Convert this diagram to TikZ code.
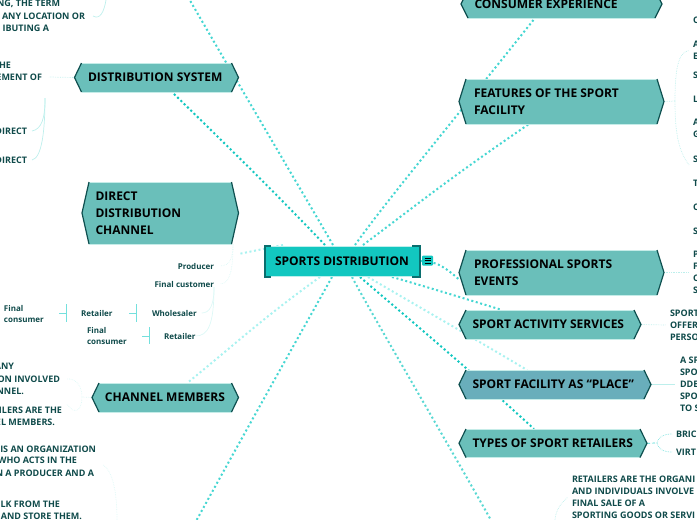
\documentclass[tikz,border=0pt]{standalone}
\usepackage{fontspec}
\setmainfont{Open Sans}
\pgfdeclarelayer{conn}
\pgfdeclarelayer{fills}
\pgfsetlayers{conn,fills,main}
\definecolor{hexfill}{HTML}{6ABFBA}
\definecolor{hexblue}{HTML}{69AEBB}
\definecolor{hexedge}{HTML}{0E4F4F}
\definecolor{rim}{HTML}{C5ECE8}
\definecolor{rootfill}{HTML}{12C7C0}
\definecolor{rootedge}{HTML}{0A6E6E}
\definecolor{txt}{HTML}{0F4A4A}
\definecolor{linkA}{HTML}{12C7C0}
\definecolor{linkB}{HTML}{45D6D2}
\definecolor{linkC}{HTML}{A8F2F0}
\definecolor{thinA}{HTML}{BDEFEC}
\definecolor{thinB}{HTML}{DDF8F6}
\tikzset{
  hexlabel/.style={font=\bfseries\fontsize{12}{17}\selectfont, text=black, inner ysep=0pt, inner xsep=0pt, outer sep=0pt},
  lbl/.style={font=\bfseries\fontsize{9}{12}\selectfont, text=txt, inner sep=0pt, outer sep=0pt},
  lblL/.style={lbl, align=left, anchor=west},
  lblR/.style={lbl, anchor=east},
  small/.style={font=\bfseries\fontsize{8}{11}\selectfont, text=txt, inner sep=0pt, outer sep=0pt, align=left},
  bigdots/.style={line width=2pt, dash pattern=on 2pt off 2.6pt},
  thin link/.style={line width=0.7pt, thinA},
  faint link/.style={line width=0.7pt, thinB},
  tick/.style={line width=1pt, color=linkB!75}
}
% name, x1, y1, x2, y2, left pad, fill, text
\newcommand{\hexbox}[8]{%
  \pgfmathsetmacro{\hw}{#4-#2}%
  \pgfmathsetmacro{\hh}{#5-#3}%
  \pgfmathsetmacro{\hcx}{(#2+#4)/2}%
  \pgfmathsetmacro{\hcy}{(#3+#5)/2}%
  \pgfmathsetmacro{\ptw}{\hw-#6-1}%
  \node[hexlabel, minimum height=\hh pt] (#1) at (\hcx,\hcy) {\hspace*{#6pt}\parbox{\ptw pt}{\raggedright #8}\hspace*{1pt}};
  \begin{pgfonlayer}{fills}
    \fill[#7] (#2+7,#3) -- (#4-7,#3) -- (#4,\hcy) -- (#4-7,#5) -- (#2+7,#5) -- (#2,\hcy) -- cycle;
    \draw[rim, line width=0.8pt] (#2+7,#3) -- (#4-7,#3) (#2+7,#5) -- (#4-7,#5);
    \draw[hexedge, line width=1.2pt] (#2+7,#3) -- (#2,\hcy) -- (#2+7,#5) (#4-7,#3) -- (#4,\hcy) -- (#4-7,#5);
  \end{pgfonlayer}
}
\begin{document}
\begin{tikzpicture}[x=1pt,y=-1pt]
\useasboundingbox (0,0) rectangle (697,520);
% root
\node[font=\bfseries\fontsize{12}{14}\selectfont, text=black, minimum width=156pt, minimum height=32pt, inner sep=0pt, outer sep=0pt] (root) at (342,261) {SPORTS DISTRIBUTION};
\begin{pgfonlayer}{fills}
  \fill[rootfill] (265,246) rectangle (419,276);
  \draw[thinA, line width=0.8pt] (265,246) rectangle (419,276);
  \draw[rootedge, line width=2pt] (271,245.5) -- (264.5,245.5) -- (264.5,276.5) -- (271,276.5);
  \draw[rootedge, line width=2pt] (412,245.5) -- (419.5,245.5) -- (419.5,276.5) -- (412,276.5);
\end{pgfonlayer}
\node[fill=rootfill, rounded corners=1pt, minimum width=11pt, minimum height=10pt, inner sep=0pt] (menu) at (427.5,260.5) {};
\draw[black, line width=0.6pt] (424.5,258) -- (430.5,258) (424.5,260.5) -- (430.5,260.5) (424.5,263) -- (430.5,263);
% main topics
\hexbox{dist}{74.5}{63}{238.5}{92}{13.5}{hexfill}{DISTRIBUTION SYSTEM}
\hexbox{direct}{82}{182}{238.5}{244}{13.5}{hexfill}{DIRECT\\DISTRIBUTION\\CHANNEL}
\hexbox{members}{92}{383}{238.5}{412}{13}{hexfill}{CHANNEL MEMBERS}
\hexbox{consumer}{461}{-10}{662}{18}{13.5}{hexfill}{CONSUMER EXPERIENCE}
\hexbox{features}{459}{79}{664}{124}{15}{hexfill}{FEATURES OF THE SPORT\\FACILITY}
\hexbox{events}{459}{250}{664}{295}{15}{hexfill}{PROFESSIONAL SPORTS\\EVENTS}
\hexbox{activity}{459}{310}{641}{339}{13.5}{hexfill}{SPORT ACTIVITY SERVICES}
\hexbox{place}{459}{370}{651}{399}{13.5}{hexblue}{SPORT FACILITY AS “PLACE”}
\hexbox{types}{459}{429}{647}{457.5}{13.5}{hexfill}{TYPES OF SPORT RETAILERS}
% free ends of connectors
\coordinate (topfree) at (188,-3);
\coordinate (botfree) at (195,523);
\coordinate (retfree) at (492,522);
% big connectors
\begin{pgfonlayer}{conn}
  \draw[bigdots, linkB] ([xshift=-9pt]root.north) .. controls (307,200) and (250,104) .. (topfree);
  \draw[bigdots, linkA] ([xshift=-17pt]root.north) .. controls (282,200) and (250,168) .. ([xshift=15.5pt]dist.south);
  \draw[bigdots, linkC] ([xshift=-59pt]root.north) -- ([yshift=-10pt]direct.south east);
  \draw[bigdots, linkC] ([xshift=-22pt]root.south) .. controls (263,318) and (240,340) .. ([xshift=22pt]members.north);
  \draw[bigdots, linkB] ([xshift=-10pt]root.south) .. controls (308,320) and (250,423) .. (botfree);
  \draw[bigdots, linkB] ([xshift=13pt]root.north) .. controls (387,200) and (450,125) .. ([xshift=-26.5pt]consumer.south);
  \draw[bigdots, linkB] ([xshift=21pt]root.north) .. controls (423,200) and (450,178) .. ([xshift=-32.5pt]features.south);
  \draw[bigdots, linkB] (root.east) .. controls (430,261) and (440,262) .. ([yshift=-7pt]events.west);
  \draw[bigdots, linkB] ([xshift=50pt]root.south) .. controls (410,282) and (450,294) .. ([xshift=-48pt]activity.north);
  \draw[bigdots, linkC] ([xshift=26pt]root.south) .. controls (400,296) and (477,340) .. ([xshift=-28pt]place.north);
  \draw[bigdots, linkA] ([xshift=18pt]root.south) .. controls (410,320) and (470,370) .. ([xshift=-19pt]types.north);
  \draw[bigdots, linkA!70!white] ([xshift=10pt]root.south) .. controls (375,320) and (450,447) .. (retfree);
\end{pgfonlayer}
% left labels
\node[lblR] (a1) at (60,4) {NG, THE TERM};
\node[lblR] (a2) at (85,16) {ANY LOCATION OR};
\node[lblR] (a3) at (49,28) {IBUTING A};
\node[lblR] (b1) at (11,65) {HE};
\node[lblR] (b2) at (42,77) {EMENT OF};
\node[lblR] (b3) at (27,131) {DIRECT};
\node[lblR] (b4) at (27,160) {DIRECT};
\node[small, anchor=east] (pr) at (214,266) {Producer};
\node[small, anchor=east] (fc) at (214,284) {Final customer};
\node[small, anchor=west] (fc1) at (4,313.5) {Final\\consumer};
\node[small, anchor=west] (re1) at (81,313) {Retailer};
\node[small, anchor=west] (wh) at (152,313) {Wholesaler};
\node[small, anchor=west] (fc2) at (87,335.5) {Final\\consumer};
\node[small, anchor=west] (re2) at (164,336) {Retailer};
\node[lblR] (c1) at (14,366) {ANY};
\node[lblR] (c2) at (60,379) {ON INVOLVED};
\node[lblR] (c3) at (24,391) {NNEL.};
\node[lblR] (c4) at (62,410) {ILERS ARE THE};
\node[lblR] (c5) at (55,422) {EL MEMBERS.};
\node[lblR] (d1) at (96,449) {IS AN ORGANIZATION};
\node[lblR] (d2) at (77,460) {WHO ACTS IN THE};
\node[lblR] (d3) at (94,473) {N A PRODUCER AND A};
\node[lblR] (d4) at (60,504) {LK FROM THE};
\node[lblR] (d5) at (82,516) {AND STORE THEM.};
% right labels
\node[lblL] (e1) at (693,50.5) {A\\E};
\node[lblL] (e2) at (693,75) {S};
\node[lblL] (e3) at (693,99) {L};
\node[lblL] (e4) at (693,128.5) {A\\G};
\node[lblL] (e5) at (693,159) {S};
\node[lblL] (e6) at (693,183) {T};
\node[lblL] (e7) at (693,207) {C};
\node[lblL] (e8) at (693,231) {S};
\node[lblL] (e0) at (693,20) {C};
\node[lblL] (f1) at (693,272.5) {P\\F\\C\\S};
\node[lblL] (g1) at (670,325) {SPORT\\OFFERI\\PERSO};
\node[lblL] (h1) at (680,384.5) {A SP\\SPO\\DDE\\SPO\\TO S};
\node[lblL] (i1) at (676,434) {BRIC};
\node[lblL] (i2) at (676,452) {VIRT};
\node[lblL] (j1) at (572,497) {RETAILERS ARE THE ORGANI\\AND INDIVIDUALS INVOLVE\\FINAL SALE OF A\\SPORTING GOODS OR SERVI};
% thin connectors
\coordinate (ahub) at (106,0);
\coordinate (bhub) at (45,98);
\coordinate (chub) at (82,397);
\coordinate (dhub) at (117,520);
\coordinate (dstart) at (103,465);
\coordinate (rhub) at (555,520);
\coordinate (dirhub) at (233,244);
\coordinate (fhub) at (675,101);
\coordinate (thub) at (657,443);
\begin{pgfonlayer}{conn}
  \draw[thin link] (ahub) .. controls (104,12) and (100,20) .. ([xshift=8pt]a2.east);
  \draw[thin link, densely dotted] (dist.west) -- ([xshift=7pt]b2.east);
  \draw[thin link] (bhub) .. controls (45,118) and (42,129) .. ([xshift=5pt]b3.east);
  \draw[thin link] (bhub) .. controls (45,130) and (42,158) .. ([xshift=5pt]b4.east);
  \draw[faint link, densely dotted] (dirhub) .. controls (233,258) and (230,266) .. ([xshift=6pt]pr.east);
  \draw[faint link, densely dotted] (dirhub) .. controls (233,270) and (230,284) .. ([xshift=6pt]fc.east);
  \draw[faint link] (fc.south east) .. controls (214,305) and (210,313) .. ([xshift=5pt]wh.east);
  \draw[faint link] (fc.south east) .. controls (214,325) and (208,336) .. (re2.east);
  \draw[faint link, densely dotted] (members.west) -- (chub);
  \draw[faint link, densely dotted] (chub) .. controls (82,385) and (75,378) .. ([xshift=7pt]c2.east);
  \draw[faint link, densely dotted] (chub) .. controls (82,410) and (75,416) .. ([xshift=5pt,yshift=6pt]c4.east);
  \draw[faint link, densely dotted] (dstart) .. controls (112,470) and (117,490) .. (dhub);
  \draw[thin link, densely dotted] (features.east) -- (fhub);
  \draw[thin link, densely dotted] (fhub) .. controls (675,70) and (678,52) .. ([xshift=-4pt]e1.west);
  \draw[thin link, densely dotted] (fhub) .. controls (675,132) and (678,150) .. ([xshift=-4pt,yshift=-6pt]e5.west);
  \draw[thin link, densely dotted] (events.east) -- ([xshift=-4pt]f1.west);
  \draw[thin link, densely dotted] (activity.east) -- ([xshift=-4pt]g1.west);
  \draw[thin link] (place.east) -- ([xshift=-5pt]h1.west);
  \draw[linkB, line width=0.7pt, densely dashed] (types.east) -- (thub);
  \draw[line width=0.7pt, densely dotted, linkB!70] (thub) .. controls (659,436) and (664,434) .. ([xshift=-4pt]i1.west);
  \draw[line width=0.7pt, densely dotted, linkB!70] (thub) .. controls (659,450) and (664,452) .. ([xshift=-4pt]i2.west);
  \draw[thin link, densely dotted] (rhub) .. controls (556,510) and (560,504) .. ([xshift=-4pt]j1.west);
\end{pgfonlayer}
% tick marks
\draw[tick] (re1.west) ++(-22,0) -- ++(7,0);
\draw[tick] (66,304) -- (66,322);
\draw[tick] (wh.west) ++(-23,0) -- ++(7,0);
\draw[tick] (136,304) -- (136,322);
\draw[tick] (re2.west) ++(-22,0) -- ++(7,0);
\draw[tick] (149,327) -- (149,344);
\end{tikzpicture}
\end{document}
